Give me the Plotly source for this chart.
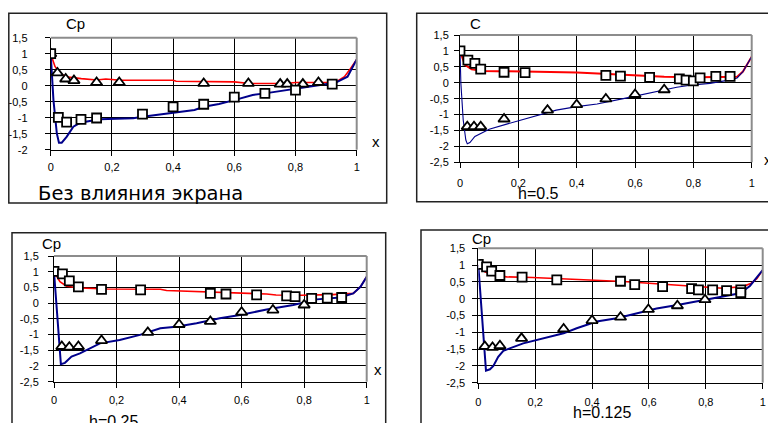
import plotly.graph_objects as go

# ---------------- data ----------------
X_TICKS = [0, 0.2, 0.4, 0.6, 0.8, 1.0]
X_TICK_LABELS = ["0", "0,2", "0,4", "0,6", "0,8", "1"]
Y_TICKS_A = [1.5, 1, 0.5, 0, -0.5, -1, -1.5, -2]
Y_TICK_LABELS_A = ["1,5", "1", "0,5", "0", "-0,5", "-1", "-1,5", "-2"]
Y_TICKS_B = [1.5, 1, 0.5, 0, -0.5, -1, -1.5, -2, -2.5]
Y_TICK_LABELS_B = ["1,5", "1", "0,5", "0", "-0,5", "-1", "-1,5", "-2", "-2,5"]

# Panel 1: no ground effect
p1_red_x = [0, 0.014, 0.03, 0.05, 0.1, 0.15, 0.18, 0.23, 0.4, 0.41, 0.6, 0.65, 0.77, 0.8, 0.93, 0.96, 0.98, 1.0]
p1_red_y = [1.0, 0.6, 0.39, 0.28, 0.22, 0.18, 0.21, 0.17, 0.17, 0.14, 0.12, 0.07, 0.07, 0.1, 0.1, 0.28, 0.54, 0.82]
p1_blue_x = [0, 0.009, 0.02, 0.027, 0.036, 0.052, 0.074, 0.096, 0.16, 0.27, 0.3, 0.4, 0.47, 0.5, 0.55, 0.6, 0.66, 0.7, 0.79, 0.88, 0.93, 0.97, 1.0]
p1_blue_y = [1.0, -0.45, -1.49, -1.78, -1.78, -1.6, -1.28, -1.16, -1.05, -1.02, -0.97, -0.84, -0.76, -0.66, -0.57, -0.45, -0.29, -0.24, -0.11, 0.0, 0.09, 0.28, 0.82]
p1_tri_x = [0, 0.022, 0.049, 0.076, 0.15, 0.224, 0.5, 0.646, 0.75, 0.773, 0.824, 0.875]
p1_tri_y = [1.0, 0.4, 0.21, 0.16, 0.1, 0.1, 0.07, 0.07, 0.05, 0.05, 0.05, 0.1]
p1_sq_x = [0, 0.025, 0.052, 0.099, 0.15, 0.3, 0.4, 0.5, 0.6, 0.7, 0.8, 0.92]
p1_sq_y = [1.0, -0.99, -1.14, -1.05, -1.01, -0.89, -0.66, -0.58, -0.36, -0.24, -0.14, 0.05]

# Panel 2: h = 0.5
p2_red_x = [0, 0.017, 0.04, 0.08, 0.22, 0.4, 0.49, 0.6, 0.7, 0.81, 0.95, 0.97, 1.0]
p2_red_y = [1.0, 0.56, 0.42, 0.37, 0.35, 0.32, 0.28, 0.23, 0.19, 0.17, 0.19, 0.35, 0.82]
p2_blue_x = [0, 0.003, 0.011, 0.02, 0.025, 0.034, 0.051, 0.074, 0.1, 0.16, 0.217, 0.274, 0.33, 0.4, 0.47, 0.56, 0.65, 0.743, 0.79, 0.857, 0.926, 0.95, 0.97, 1.0]
p2_blue_y = [1.0, -0.02, -1.17, -1.8, -1.92, -1.88, -1.69, -1.57, -1.46, -1.3, -1.15, -1.01, -0.86, -0.75, -0.67, -0.5, -0.33, -0.14, -0.08, -0.02, 0.09, 0.15, 0.35, 0.82]
p2_sq_x = [0, 0.027, 0.051, 0.071, 0.151, 0.223, 0.5, 0.55, 0.65, 0.752, 0.775, 0.8, 0.823, 0.877, 0.926]
p2_sq_y = [1.0, 0.71, 0.61, 0.43, 0.33, 0.32, 0.23, 0.21, 0.17, 0.12, 0.08, 0.06, 0.15, 0.2, 0.2]
p2_tri_x = [0.025, 0.048, 0.071, 0.151, 0.3, 0.4, 0.5, 0.6, 0.7]
p2_tri_y = [-1.38, -1.38, -1.38, -1.14, -0.86, -0.69, -0.51, -0.37, -0.22]

# Panel 3: h = 0.25
p3_red_x = [0, 0.019, 0.04, 0.083, 0.17, 0.34, 0.36, 0.49, 0.57, 0.68, 0.71, 0.79, 0.89, 0.957, 0.98, 1.0]
p3_red_y = [1.0, 0.68, 0.54, 0.48, 0.45, 0.44, 0.4, 0.36, 0.33, 0.29, 0.26, 0.25, 0.27, 0.31, 0.52, 0.84]
p3_blue_x = [0, 0.009, 0.017, 0.022, 0.035, 0.056, 0.083, 0.147, 0.21, 0.275, 0.34, 0.39, 0.456, 0.53, 0.595, 0.68, 0.765, 0.84, 0.915, 0.957, 0.98, 1.0]
p3_blue_y = [1.0, -0.22, -1.28, -1.94, -1.9, -1.7, -1.6, -1.28, -1.17, -1.01, -0.8, -0.75, -0.64, -0.48, -0.38, -0.2, -0.06, 0.12, 0.18, 0.31, 0.52, 0.84]
p3_sq_x = [0, 0.027, 0.049, 0.078, 0.152, 0.277, 0.5, 0.55, 0.648, 0.744, 0.771, 0.824, 0.874, 0.92]
p3_sq_y = [1.01, 0.93, 0.71, 0.52, 0.44, 0.42, 0.31, 0.29, 0.26, 0.23, 0.21, 0.15, 0.16, 0.18]
p3_tri_x = [0.025, 0.049, 0.078, 0.152, 0.3, 0.4, 0.5, 0.6, 0.7, 0.8]
p3_tri_y = [-1.38, -1.4, -1.38, -1.19, -0.93, -0.68, -0.58, -0.29, -0.22, -0.06]

# Panel 4: h = 0.125
p4_red_x = [0, 0.023, 0.053, 0.1, 0.19, 0.35, 0.42, 0.51, 0.6, 0.69, 0.79, 0.86, 0.93, 0.96, 0.98, 1.0]
p4_red_y = [1.0, 0.8, 0.7, 0.65, 0.63, 0.58, 0.56, 0.51, 0.46, 0.41, 0.34, 0.31, 0.36, 0.46, 0.6, 0.85]
p4_blue_x = [0, 0.012, 0.02, 0.027, 0.041, 0.053, 0.07, 0.088, 0.158, 0.205, 0.25, 0.3, 0.346, 0.416, 0.487, 0.557, 0.627, 0.7, 0.78, 0.86, 0.92, 0.955, 1.0]
p4_blue_y = [1.0, -0.34, -1.53, -2.14, -2.1, -2.0, -1.73, -1.55, -1.33, -1.23, -1.13, -1.03, -0.88, -0.68, -0.58, -0.43, -0.29, -0.19, -0.06, 0.08, 0.16, 0.38, 0.85]
p4_sq_x = [0, 0.029, 0.047, 0.076, 0.154, 0.276, 0.5, 0.55, 0.648, 0.75, 0.774, 0.824, 0.873, 0.923, 0.923]
p4_sq_y = [1.02, 0.95, 0.82, 0.69, 0.64, 0.56, 0.52, 0.42, 0.36, 0.3, 0.26, 0.26, 0.24, 0.26, 0.18]
p4_tri_x = [0.023, 0.05, 0.076, 0.152, 0.3, 0.4, 0.5, 0.598, 0.7, 0.797]
p4_tri_y = [-1.42, -1.45, -1.4, -1.18, -0.9, -0.65, -0.55, -0.32, -0.21, -0.03]

PANEL_TITLES = ["Без влияния экрана", "h=0.5", "h=0.25", "h=0.125"]
Y_LABELS = ["Cp", "C", "Cp", "Cp"]

# ---------------- layout helpers ----------------
# the page body has an 8px default margin, so the figure itself is 768x415
OFF = 8
W, H = 776 - OFF, 423 - OFF
FONT = "Liberation Sans, Arial, sans-serif"
RED = "#ff0000"
BLUE = "#00008b"


def fx(px):
    return (px - OFF) / W


def fy(py):
    return 1 - (py - OFF) / H


panels = [
    dict(red=(p1_red_x, p1_red_y), blue=(p1_blue_x, p1_blue_y),
         tri=(p1_tri_x, p1_tri_y), sq=(p1_sq_x, p1_sq_y),
         xd=(50.7, 356.7), yd=(149.7, 37.7), yr=[-2, 1.5], yt=(Y_TICKS_A, Y_TICK_LABELS_A),
         ystand=15, xstand=2, bw=2.0, rw=1.6),
    dict(red=(p2_red_x, p2_red_y), blue=(p2_blue_x, p2_blue_y),
         tri=(p2_tri_x, p2_tri_y), sq=(p2_sq_x, p2_sq_y),
         xd=(460.0, 751.7), yd=(162.3, 35.0), yr=[-2.5, 1.5], yt=(Y_TICKS_B, Y_TICK_LABELS_B),
         ystand=3, xstand=5, bw=1.1, rw=2.0),
    dict(red=(p3_red_x, p3_red_y), blue=(p3_blue_x, p3_blue_y),
         tri=(p3_tri_x, p3_tri_y), sq=(p3_sq_x, p3_sq_y),
         xd=(54.0, 366.7), yd=(381.7, 256.0), yr=[-2.5, 1.5], yt=(Y_TICKS_B, Y_TICK_LABELS_B),
         ystand=7, xstand=3, bw=2.0, rw=1.6),
    dict(red=(p4_red_x, p4_red_y), blue=(p4_blue_x, p4_blue_y),
         tri=(p4_tri_x, p4_tri_y), sq=(p4_sq_x, p4_sq_y),
         xd=(478.3, 762.7), yd=(382.7, 248.3), yr=[-2.5, 1.5], yt=(Y_TICKS_B, Y_TICK_LABELS_B),
         ystand=5, xstand=4, bw=2.0, rw=1.6),
]

fig = go.Figure()
shapes = []
annotations = []
axes = {}

tickfont = dict(family=FONT, size=11, color="#000")

for i, p in enumerate(panels, start=1):
    xn = "x" if i == 1 else f"x{i}"
    yn = "y" if i == 1 else f"y{i}"
    xk = "xaxis" if i == 1 else f"xaxis{i}"
    yk = "yaxis" if i == 1 else f"yaxis{i}"

    common = dict(showgrid=True, gridcolor="black", gridwidth=1, zeroline=False,
                  showline=True, linecolor="black", linewidth=1,
                  ticks="outside", ticklen=5, tickcolor="black", tickwidth=1,
                  tickfont=tickfont)

    axes[xk] = dict(domain=[fx(p["xd"][0]), fx(p["xd"][1])], anchor=yn, range=[0, 1],
                    tickvals=X_TICKS, ticktext=X_TICK_LABELS,
                    ticklabelstandoff=p["xstand"], **common)
    axes[yk] = dict(domain=[fy(p["yd"][0]), fy(p["yd"][1])], anchor=xn, range=p["yr"],
                    tickvals=p["yt"][0], ticktext=p["yt"][1],
                    ticklabelstandoff=p["ystand"], **common)

    fig.add_trace(go.Scatter(x=p["red"][0], y=p["red"][1], mode="lines",
                             line=dict(color=RED, width=p["rw"]), xaxis=xn, yaxis=yn,
                             hoverinfo="skip"))
    fig.add_trace(go.Scatter(x=p["blue"][0], y=p["blue"][1], mode="lines",
                             line=dict(color=BLUE, width=p["bw"]), xaxis=xn, yaxis=yn,
                             hoverinfo="skip"))
    fig.add_trace(go.Scatter(x=p["tri"][0], y=p["tri"][1], mode="markers",
                             marker=dict(symbol="triangle-up", size=10, color="white",
                                         line=dict(color="black", width=1.8)),
                             xaxis=xn, yaxis=yn, hoverinfo="skip"))
    fig.add_trace(go.Scatter(x=p["sq"][0], y=p["sq"][1], mode="markers",
                             marker=dict(symbol="square", size=9, color="white",
                                         line=dict(color="black", width=1.8)),
                             xaxis=xn, yaxis=yn, hoverinfo="skip"))

    xr = "x domain" if i == 1 else f"x{i} domain"
    yr = "y domain" if i == 1 else f"y{i} domain"
    shapes.append(dict(type="line", xref=xr, yref=yr, x0=0, x1=1, y0=1, y1=1,
                       line=dict(color="#8c8c8c", width=2), layer="above"))
    shapes.append(dict(type="line", xref=xr, yref=yr, x0=1, x1=1, y0=0, y1=1,
                       line=dict(color="#8c8c8c", width=2), layer="above"))

frames = [(8.8, 13.3, 386.7, 203.0), (416.7, 13.3, 790, 201.7),
          (12, 232.7, 385.7, 440), (421, 230, 790, 440)]
for (x0, y0, x1, y1) in frames:
    shapes.append(dict(type="rect", xref="paper", yref="paper",
                       x0=fx(x0), x1=fx(x1), y0=fy(y1), y1=fy(y0),
                       line=dict(color="#222", width=1.5), layer="above"))


def ann(text, px, py, size, xanchor="center", family=FONT):
    annotations.append(dict(
        text=text, x=fx(px), y=fy(py), xref="paper", yref="paper",
        xanchor=xanchor, yanchor="middle", showarrow=False,
        font=dict(family=family, size=size, color="black")))


ann(Y_LABELS[0], 75, 23, 15)
ann(Y_LABELS[1], 475, 23, 15)
ann(Y_LABELS[2], 51, 243, 15)
ann(Y_LABELS[3], 481, 238, 15)
ann("x", 375.7, 141.7, 15)
ann("x", 768.3, 159.3, 15)
ann("x", 378.3, 369.3, 15)
ann("x", 779, 372, 15)
ann(PANEL_TITLES[0], 140, 193, 19.5, family="DejaVu Sans, sans-serif")
ann(PANEL_TITLES[1], 538, 193, 16)
ann(PANEL_TITLES[2], 113, 421, 16)
ann(PANEL_TITLES[3], 601.5, 412, 16)

fig.update_layout(
    template="none",
    width=W, height=H, autosize=False,
    margin=dict(l=0, r=0, t=0, b=0),
    showlegend=False, shapes=shapes, annotations=annotations,
    **axes,
)
fig.write_html("out.html")
